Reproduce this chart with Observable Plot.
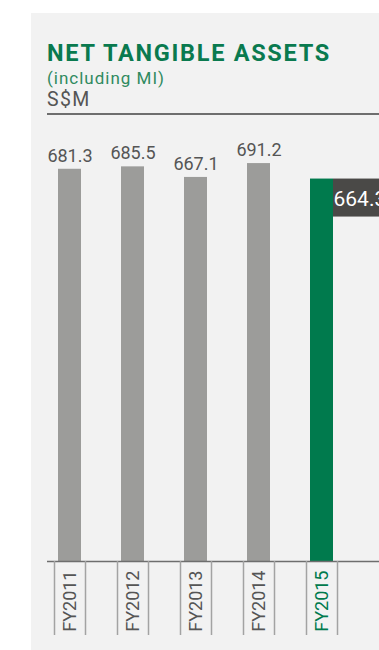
<!DOCTYPE html>
<html><head><meta charset="utf-8">
<script src="https://cdn.jsdelivr.net/npm/d3@7"></script>
<script src="https://cdn.jsdelivr.net/npm/@observablehq/plot@0.6"></script>
<style>
html,body{margin:0;padding:0;background:#fff;overflow:hidden;width:379px;height:650px;}
#panel{position:absolute;left:31px;top:13px;width:348px;height:637px;background:#f2f2f2;}
.t{position:absolute;left:47px;white-space:nowrap;font-family:Roboto,sans-serif;line-height:1;}
#title{top:42px;font-size:23.5px;font-weight:700;color:#0a7a4f;letter-spacing:1.7px;}
#sub{top:69.5px;font-size:17px;color:#2f8a5f;letter-spacing:1px;}
#unit{top:90.3px;font-size:19.5px;color:#555;letter-spacing:1.3px;}
#rule{position:absolute;left:47px;top:113px;width:332px;height:1.5px;background:#6e6e6e;}
#chart{position:absolute;left:0;top:114px;}
</style></head><body>
<div id="panel"></div>
<div class="t" id="title">NET TANGIBLE ASSETS</div>
<div class="t" id="sub">(including MI)</div>
<div class="t" id="unit">S$M</div>
<div id="rule"></div>
<div id="chart"></div>
<script>
const years = ["FY2011", "FY2012", "FY2013", "FY2014", "FY2015"];
const values = [681.3, 685.5, 667.1, 691.2, 664.3];
const highlight = "FY2015";

const data = years.map((year, i) => ({year, value: values[i]}));
const past = data.filter(d => d.year !== highlight);
const current = data.filter(d => d.year === highlight);
const green = "#007a4d", gray = "#9c9c9a", textGray = "#555555", dark = "#4a4947";

const chart = Plot.plot({
  width: 379, height: 536,
  marginLeft: 38, marginRight: 26, marginTop: 44, marginBottom: 89,
  style: {background: "transparent", fontFamily: "Roboto, sans-serif"},
  x: {domain: years, paddingInner: 0.635, paddingOuter: 0.3175, align: 0.5, axis: null},
  y: {domain: [0, 700], axis: null},
  marks: [
    Plot.barY(data, {x: "year", y: "value", fill: d => d.year === highlight ? green : gray}),
    Plot.ruleY([0], {stroke: "#6e6e6e", strokeWidth: 1.5, insetLeft: 9, insetRight: -26}),
    Plot.ruleX(years, {x: d => d, y1: 0, y2: 0, insetBottom: -74, dx: -15.5, stroke: "#a3a3a3", strokeWidth: 1.5}),
    Plot.ruleX(years, {x: d => d, y1: 0, y2: 0, insetBottom: -74, dx: 15.5, stroke: "#a3a3a3", strokeWidth: 1.5}),
    Plot.axisX({ticks: years.filter(y => y !== highlight), tickRotate: -90, tickSize: 0, tickPadding: 9, fontSize: 18, color: textGray, label: null}),
    Plot.axisX({ticks: [highlight], tickRotate: -90, tickSize: 0, tickPadding: 9, fontSize: 18, color: green, label: null}),
    Plot.text(past, {x: "year", y: "value", text: d => d.value.toFixed(1), dy: -7.5, lineAnchor: "bottom", fontSize: 18, fill: textGray}),
    Plot.barY(current, {x: "year", y1: "value", y2: "value", fill: dark, insetLeft: 23, insetRight: -70, insetBottom: -38}),
    Plot.text(current, {x: "year", y: "value", text: d => d.value.toFixed(1), dx: 11.5, dy: 20.4, textAnchor: "start", lineAnchor: "middle", fontSize: 21, fill: "white"})
  ]
});
document.getElementById("chart").appendChild(chart);
</script>
</body></html>
